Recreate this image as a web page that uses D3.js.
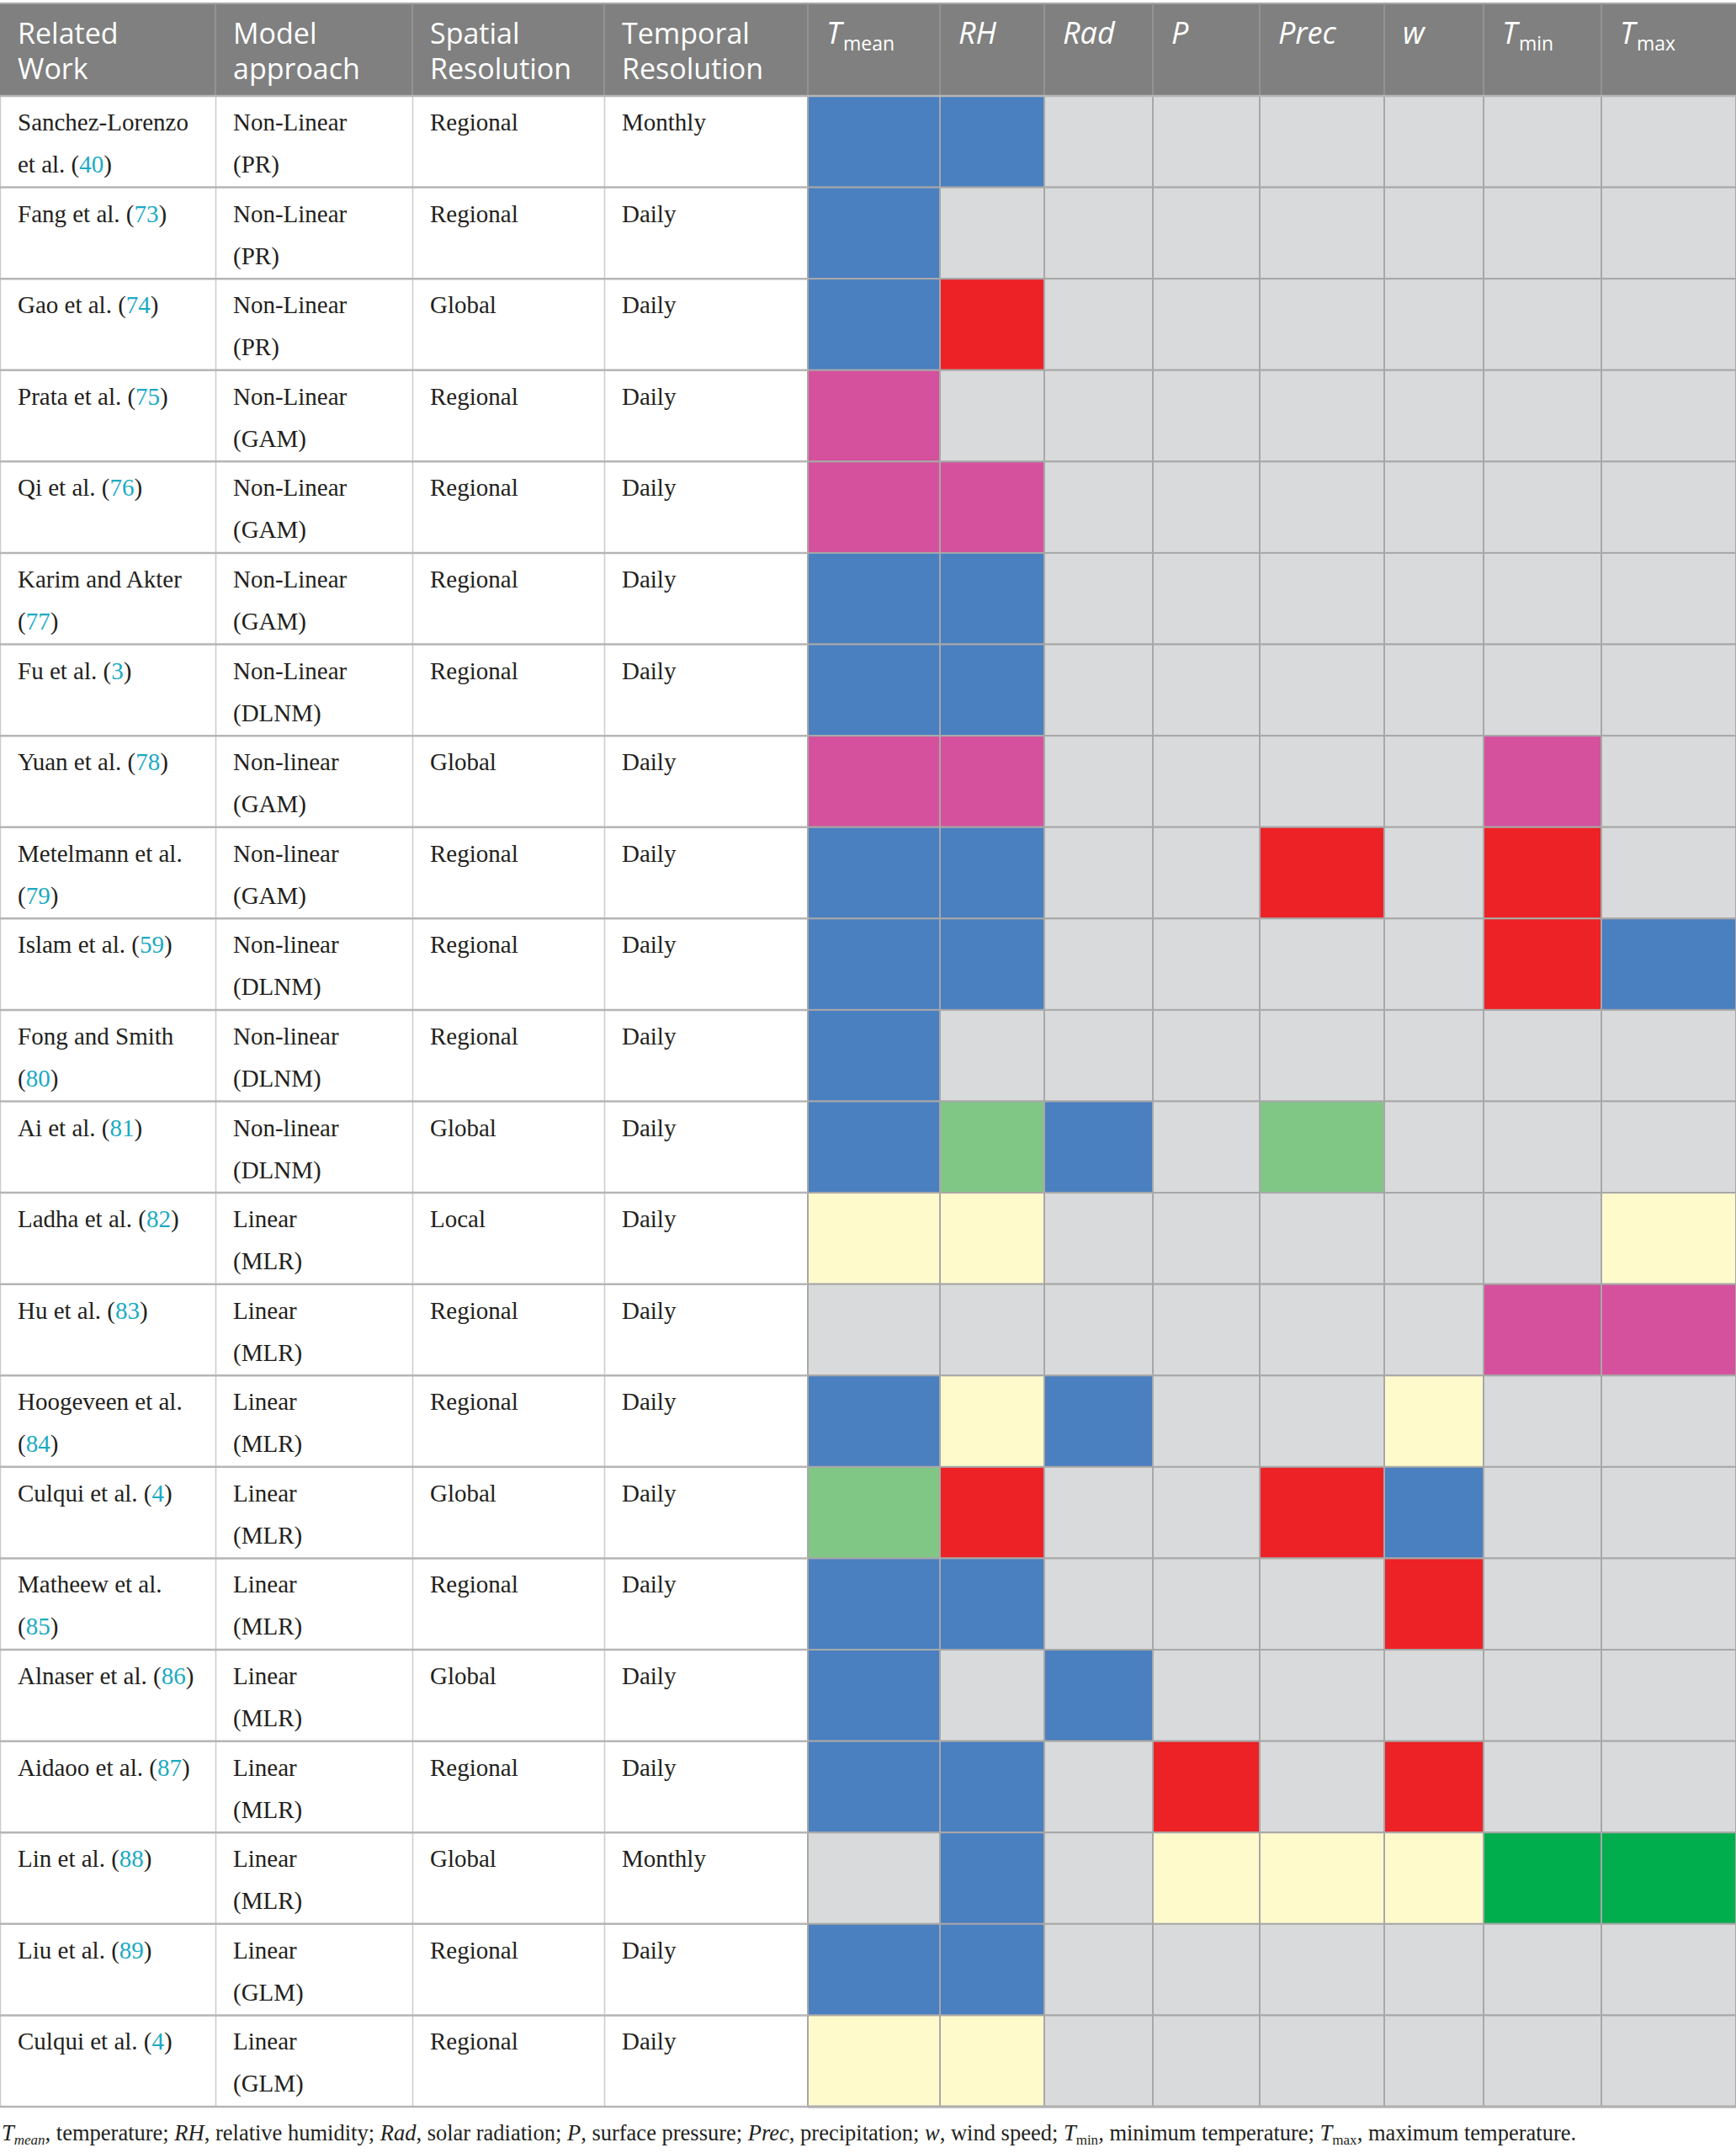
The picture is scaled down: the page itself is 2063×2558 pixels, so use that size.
<!DOCTYPE html>
<html>
<head>
<meta charset="utf-8">
<script src="https://cdn.jsdelivr.net/npm/d3@7"></script>
<style>
  body { margin: 0; background: #fff; }
</style>
</head>
<body>
<div id="caja"></div>
<script>
// datos de la tabla
var works = ["Sanchez-Lorenzo\net al.", "Fang et al.", "Gao et al.", "Prata et al.", "Qi et al.",
  "Karim and Akter\n", "Fu et al.", "Yuan et al.", "Metelmann et al.\n", "Islam et al.",
  "Fong and Smith\n", "Ai et al.", "Ladha et al.", "Hu et al.", "Hoogeveen et al.\n",
  "Culqui et al.", "Matheew et al.\n", "Alnaser et al.", "Aidaoo et al.", "Lin et al.",
  "Liu et al.", "Culqui et al."];
var refs = ["40", "73", "74", "75", "76", "77", "3", "78", "79", "59", "80", "81", "82", "83",
  "84", "4", "85", "86", "87", "88", "89", "4"];
var models = ["Non-Linear", "Non-Linear", "Non-Linear", "Non-Linear", "Non-Linear", "Non-Linear",
  "Non-Linear", "Non-linear", "Non-linear", "Non-linear", "Non-linear", "Non-linear",
  "Linear", "Linear", "Linear", "Linear", "Linear", "Linear", "Linear", "Linear", "Linear", "Linear"];
var methods = ["PR", "PR", "PR", "GAM", "GAM", "GAM", "DLNM", "GAM", "GAM", "DLNM", "DLNM", "DLNM",
  "MLR", "MLR", "MLR", "MLR", "MLR", "MLR", "MLR", "MLR", "GLM", "GLM"];
var spatial = ["Regional", "Regional", "Global", "Regional", "Regional", "Regional", "Regional",
  "Global", "Regional", "Regional", "Regional", "Global", "Local", "Regional", "Regional",
  "Global", "Regional", "Global", "Regional", "Global", "Regional", "Regional"];
var temporal = ["Monthly", "Daily", "Daily", "Daily", "Daily", "Daily", "Daily", "Daily", "Daily",
  "Daily", "Daily", "Daily", "Daily", "Daily", "Daily", "Daily", "Daily", "Daily", "Daily",
  "Monthly", "Daily", "Daily"];

// columnas de variables
var varBase = ["T", "RH", "Rad", "P", "Prec", "w", "T", "T"];
var varSub = ["mean", "", "", "", "", "", "min", "max"];

// codigo de color por celda: B azul, R rojo, P rosa, G verde claro, Y amarillo, D verde oscuro, - vacio
var cells = [
  "BB------", "B-------", "BR------", "P-------", "PP------", "BB------", "BB------",
  "PP----P-", "BB--R-R-", "BB----RB", "B-------", "BGB-G---", "YY-----Y", "------PP",
  "BYB--Y--", "GR--RB--", "BB---R--", "B-B-----", "BB-R-R--", "-B-YYYDD", "BB------", "YY------"];

var headText = [["Related", "Work"], ["Model", "approach"], ["Spatial", "Resolution"], ["Temporal", "Resolution"]];

var footAbbr = [["T", "mean"], ["RH", ""], ["Rad", ""], ["P", ""], ["Prec", ""], ["w", ""], ["T", "min"], ["T", "max"]];
var footMeaning = ["temperature", "relative humidity", "solar radiation", "surface pressure",
  "precipitation", "wind speed", "minimum temperature", "maximum temperature"];

var colores = {B: "#4a7fc0", R: "#ed2226", P: "#d5519d", G: "#80c685", Y: "#fffacc", D: "#00ae4d", "-": "#d9dadb"};

// area de dibujo
var w = 2063, h = 2558;
var headTop = 4, headBot = 114, tableBot = 2503;
var edges = [0, 256, 490, 718, 960, 1117, 1241, 1370, 1497, 1645, 1763, 1903, 2063];

var svg = d3.select('#caja').append('svg')
  .attr('width', w).attr('height', h)
  .style('background', '#fff');

var y = d3.scaleBand().domain(d3.range(works.length)).range([headBot, tableBot]);
var xCol = d3.scaleOrdinal().domain(d3.range(12)).range(edges.slice(0, 12));
var colW = function(i) { return edges[i + 1] - edges[i]; };

// cabecera
svg.append('rect').attr('x', 0).attr('y', headTop).attr('width', w).attr('height', headBot - headTop)
  .attr('fill', '#7f807f');
svg.append('line').attr('x1', 0).attr('x2', w).attr('y1', headTop).attr('y2', headTop)
  .attr('stroke', '#a9a9a9').attr('stroke-width', 2);
svg.append('g').selectAll('line').data(edges.slice(1, 12)).enter().append('line')
  .attr('x1', function(d) { return d; }).attr('x2', function(d) { return d; })
  .attr('y1', headTop).attr('y2', headBot)
  .attr('stroke', '#9a9a9a').attr('stroke-width', 1.5);

var headG = svg.append('g').attr('font-family', "'Open Sans', sans-serif").attr('fill', '#fff');
headText.forEach(function(lines, i) {
  lines.forEach(function(t, k) {
    headG.append('text').attr('x', xCol(i) + 21).attr('y', 52 + k * 42)
      .attr('font-size', 34).text(t);
  });
});
varBase.forEach(function(b, i) {
  var t = headG.append('text').attr('x', xCol(i + 4) + 22).attr('y', 52).attr('font-size', 36);
  t.append('tspan').attr('font-style', 'italic').text(b);
  if (varSub[i]) {
    t.append('tspan').attr('font-size', 23).attr('dy', 8).attr('dx', 2).text(varSub[i]);
  }
});

// celdas de color
var cellG = svg.append('g');
cells.forEach(function(row, r) {
  cellG.selectAll(null).data(row.split('')).enter().append('rect')
    .attr('x', function(d, j) { return xCol(j + 4); })
    .attr('y', y(r))
    .attr('width', function(d, j) { return colW(j + 4); })
    .attr('height', y.bandwidth())
    .attr('fill', function(d) { return colores[d]; })
    .attr('stroke', '#a8a8a8').attr('stroke-width', 2);
});

// lineas de la zona de texto
svg.append('g').selectAll('line').data([0, 256, 490, 718]).enter().append('line')
  .attr('x1', function(d) { return d + 0.5; }).attr('x2', function(d) { return d + 0.5; })
  .attr('y1', headBot).attr('y2', tableBot)
  .attr('stroke', '#cbcbcb').attr('stroke-width', 1.5);
svg.append('g').selectAll('line').data(d3.range(works.length + 1)).enter().append('line')
  .attr('x1', 0).attr('x2', function(d) { return d === 0 || d === works.length ? w : 960; })
  .attr('y1', function(d) { return d < works.length ? y(d) : tableBot; })
  .attr('y2', function(d) { return d < works.length ? y(d) : tableBot; })
  .attr('stroke', '#b5b5b5').attr('stroke-width', 2.5);
svg.append('line').attr('x1', 960).attr('x2', w).attr('y1', tableBot).attr('y2', tableBot)
  .attr('stroke', '#b0b0b0').attr('stroke-width', 3);

// textos del cuerpo
var body = svg.append('g').attr('font-family', "'Liberation Serif', serif").attr('font-size', 29).attr('fill', '#231f20');
works.forEach(function(wk, r) {
  var top = y(r);
  var lines = wk.split('\n');
  lines.forEach(function(l, k) {
    var t = body.append('text').attr('x', 21).attr('y', top + 41 + k * 50);
    var last = k === lines.length - 1;
    var pre = l + (last ? (l ? ' (' : '(') : '');
    t.append('tspan').text(pre);
    if (last) {
      t.append('tspan').attr('fill', '#1aaac3').text(refs[r]);
      t.append('tspan').text(')');
    }
  });
  body.append('text').attr('x', xCol(1) + 21).attr('y', top + 41).text(models[r]);
  body.append('text').attr('x', xCol(1) + 21).attr('y', top + 91).text('(' + methods[r] + ')');
  body.append('text').attr('x', xCol(2) + 21).attr('y', top + 41).text(spatial[r]);
  body.append('text').attr('x', xCol(3) + 21).attr('y', top + 41).text(temporal[r]);
});

// nota al pie
var foot = svg.append('text').attr('x', 2).attr('y', 2543)
  .attr('font-family', "'Liberation Serif', serif").attr('font-size', 26.5).attr('fill', '#231f20');
footAbbr.forEach(function(a, i) {
  foot.append('tspan').attr('font-style', 'italic').text(a[0]);
  if (a[1]) {
    foot.append('tspan').attr('font-size', 17).attr('dy', 5).attr('font-style', i === 0 ? 'italic' : 'normal').text(a[1]);
    foot.append('tspan').attr('dy', -5).text(', ' + footMeaning[i] + (i < footAbbr.length - 1 ? '; ' : '.'));
  } else {
    foot.append('tspan').text(', ' + footMeaning[i] + '; ');
  }
});
</script>
</body>
</html>
